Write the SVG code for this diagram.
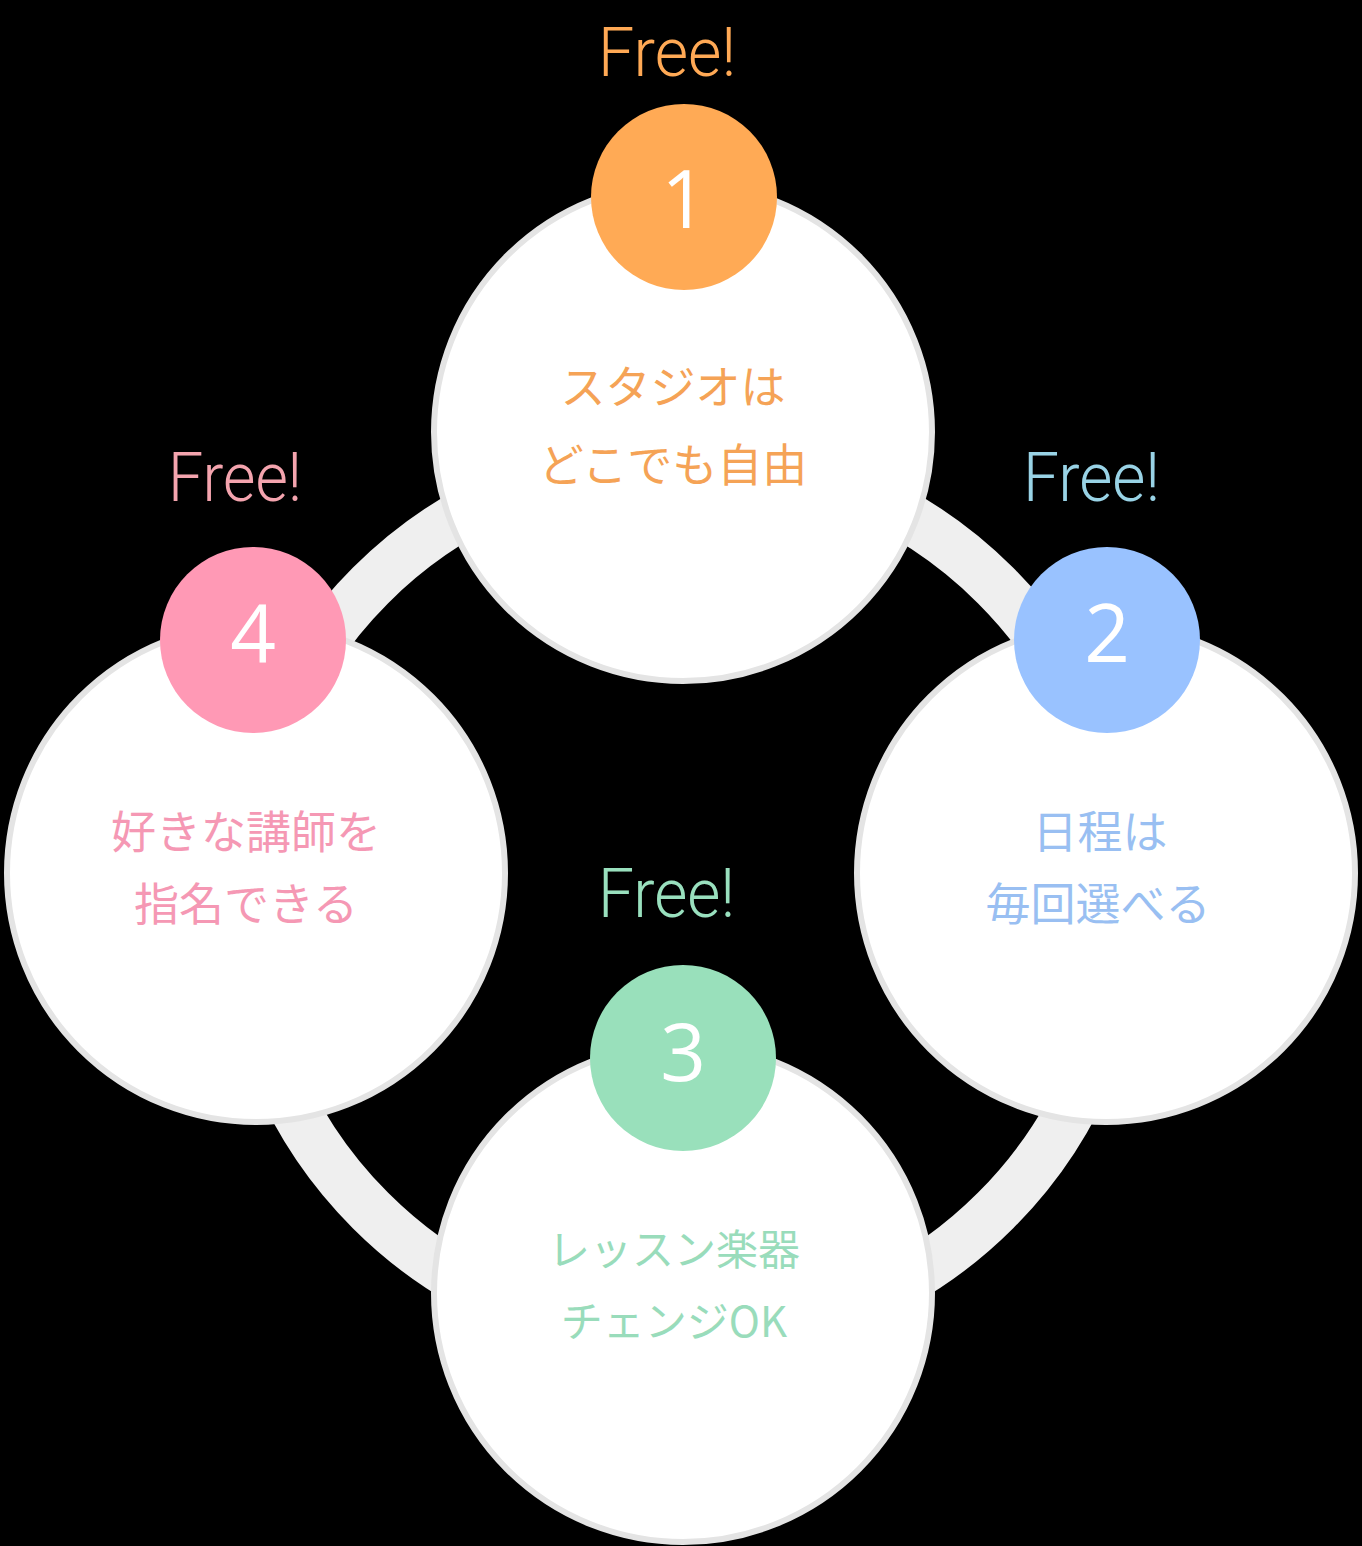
<svg xmlns="http://www.w3.org/2000/svg" width="1362" height="1546" viewBox="0 0 1362 1546">
<style>
.big{fill:#ffffff;stroke:#e4e4e4;stroke-width:6}
.num{font-family:"Open Sans","Noto Sans",sans-serif;font-weight:400;font-size:80px;fill:#ffffff;text-anchor:middle}
.jp{font-family:"Noto Sans CJK JP","Noto Sans",sans-serif;font-weight:400;font-size:45px;text-anchor:middle}
.jp.sm{font-size:42px}
.free{font-family:"Roboto","Liberation Sans",sans-serif;font-weight:300;font-size:68px}
</style>
<rect x="0" y="0" width="1362" height="1546" fill="#000000"/>
<g id="connectors">
<circle cx="683" cy="898" r="442" fill="none" stroke="#efefef" stroke-width="50"/>
</g>
<g id="node1">
<circle class="big" cx="683" cy="432" r="249"/>
<circle cx="684" cy="197" r="93" fill="#ffaa55"/>
<text class="num" x="684" y="228">1</text>
<text class="free" x="598" y="76" fill="#ffa955" textLength="138" lengthAdjust="spacingAndGlyphs">Free!</text>
<text class="jp" x="673" y="404" fill="#f5a356">スタジオは</text>
<text class="jp" x="673" y="482" fill="#f5a356">どこでも自由</text>
</g>
<g id="node2">
<circle class="big" cx="1106" cy="873" r="249"/>
<circle cx="1107" cy="640" r="93" fill="#99c2ff"/>
<text class="num" x="1107" y="662">2</text>
<text class="free" x="1023" y="501" fill="#99d3e6" textLength="137" lengthAdjust="spacingAndGlyphs">Free!</text>
<text class="jp" x="1100" y="849" fill="#99bff2">日程は</text>
<text class="jp" x="1098" y="921" fill="#99bff2">毎回選べる</text>
</g>
<g id="node3">
<circle class="big" cx="683" cy="1293" r="249"/>
<circle cx="683" cy="1058" r="93" fill="#99e0bb"/>
<text class="num" x="683" y="1081">3</text>
<text class="free" x="598" y="917" fill="#99e0be" textLength="137" lengthAdjust="spacingAndGlyphs">Free!</text>
<text class="jp sm" x="674" y="1265" fill="#99dcbb">レッスン楽器</text>
<text class="jp sm" x="674" y="1337" fill="#99dcbb">チェンジOK</text>
</g>
<g id="node4">
<circle class="big" cx="256" cy="873" r="249"/>
<circle cx="253" cy="640" r="93" fill="#ff99b5"/>
<text class="num" x="253" y="662">4</text>
<text class="free" x="168" y="501" fill="#f4a4ae" textLength="134" lengthAdjust="spacingAndGlyphs">Free!</text>
<text class="jp" x="246" y="849" fill="#f598b4">好きな講師を</text>
<text class="jp" x="246" y="921" fill="#f598b4">指名できる</text>
</g>
</svg>
